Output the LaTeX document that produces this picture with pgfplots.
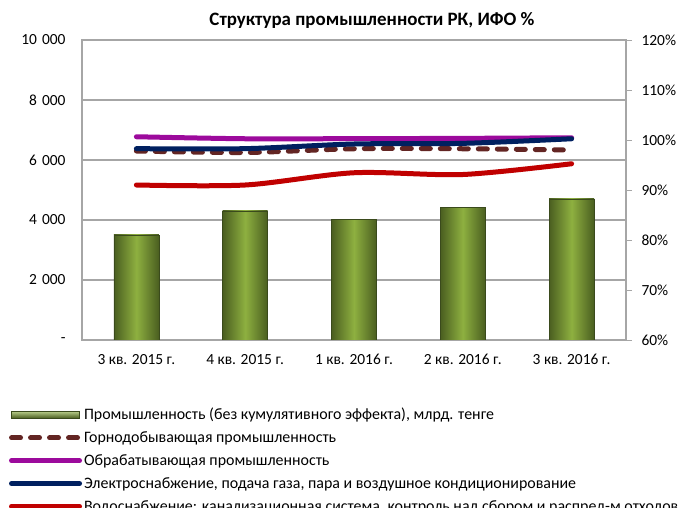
\documentclass[border=0pt]{standalone}
\usepackage{pgfplots}
\pgfplotsset{compat=1.18}
\usepackage{fontspec}
\setmainfont{Carlito}
\definecolor{gridgray}{HTML}{A6A6A6}
\definecolor{bardark}{HTML}{4A5E20}
\definecolor{barlight}{HTML}{8EB040}
\definecolor{barline}{HTML}{3A4A1C}
\definecolor{cbrown}{HTML}{632523}
\definecolor{cpurple}{HTML}{9C0A9C}
\definecolor{cnavy}{HTML}{002060}
\definecolor{cred}{HTML}{C00000}
\pgfplotsset{greenbar/.style={draw=barline, line width=0.6bp, left color=bardark, right color=bardark, middle color=barlight, bar shift=0pt}}
\begin{document}
\begin{tikzpicture}
\useasboundingbox (-82bp,-168bp) rectangle (598bp,340bp);
\begin{axis}[
  at={(0,0)}, anchor=south west,
  scale only axis, width=544bp, height=300bp,
  xmin=-0.5, xmax=4.5, ymin=0, ymax=10000,
  ybar, bar width=45bp, scaled y ticks=false,
  xtick={0,1,2,3,4},
  xticklabels={3 кв. 2015 г., 4 кв. 2015 г., 1 кв. 2016 г., 2 кв. 2016 г., 3 кв. 2016 г.},
  ytick={0,2000,4000,6000,8000,10000},
  yticklabels={-,2\hspace{0.32em}000,4\hspace{0.32em}000,6\hspace{0.32em}000,8\hspace{0.32em}000,10\hspace{0.32em}000},
  major tick length=0pt,
  ymajorgrids, grid style={draw=gridgray, line width=1.3bp},
  axis line style={draw=gridgray, line width=1.3bp},
  tick label style={font=\fontsize{15.5}{18}\selectfont, text=black},
  yticklabel style={xshift=-13bp},
  xticklabel style={yshift=-11bp},
  title={Структура промышленности РК, ИФО \%},
  title style={at={(axis description cs:0.533,1)}, anchor=south, yshift=2bp, font=\bfseries\fontsize{19}{22}\selectfont},
]
\addplot[greenbar] coordinates {(0,3500)};
\addplot[greenbar] coordinates {(1,4300)};
\addplot[greenbar] coordinates {(2,4030)};
\addplot[greenbar] coordinates {(3,4430)};
\addplot[greenbar] coordinates {(4,4700)};
\end{axis}
\begin{axis}[
  at={(0,0)}, anchor=south west,
  scale only axis, width=544bp, height=300bp,
  xmin=-0.5, xmax=4.5, ymin=60, ymax=120,
  axis x line=none, axis y line*=right,
  ytick={60,70,80,90,100,110,120},
  yticklabels={60\%,70\%,80\%,90\%,100\%,110\%,120\%},
  tick align=outside, major tick length=6bp,
  tick style={draw=gridgray, line width=1bp},
  axis line style={draw=gridgray, line width=1.3bp},
  tick label style={font=\fontsize{15.5}{18}\selectfont, text=black},
  yticklabel style={xshift=6bp},
  legend image code/.code={\draw[#1] (0bp,0bp) -- (68bp,0bp);},
  legend cell align=left,
  legend style={at={(-0.14,-0.213)}, anchor=north west, draw=none, fill=none,
    font=\fontsize{16}{18}\selectfont, row sep=6.5bp},
]
\addlegendimage{legend image code/.code={\shade[top color=barlight!60!white, bottom color=bardark, draw=barline, line width=0.6bp] (0bp,-3.5bp) rectangle (68bp,3.5bp);}}
\addlegendentry{Промышленность (без кумулятивного эффекта), млрд. тенге}
\addplot[cbrown, line width=5bp, line cap=round, dash pattern=on 9bp off 10bp, smooth]
  coordinates {(0,97.8) (1,97.5) (2,98.25) (3,98.25) (4,98.0)};
\addlegendentry{Горнодобывающая промышленность}
\addplot[cpurple, line width=5bp, line cap=round, smooth]
  coordinates {(0,100.65) (1,100.25) (2,100.27) (3,100.33) (4,100.45)};
\addlegendentry{Обрабатывающая промышленность}
\addplot[cnavy, line width=5bp, line cap=round, smooth]
  coordinates {(0,98.27) (1,98.27) (2,99.2) (3,99.33) (4,100.25)};
\addlegendentry{Электроснабжение, подача газа, пара и воздушное кондиционирование}
\addplot[cred, line width=5bp, line cap=round, smooth]
  coordinates {(0,91.0) (1,91.0) (2,93.45) (3,93.1) (4,95.25)};
\addlegendentry{Водоснабжение: канализационная система, контроль над сбором и распред-м отходов}
\end{axis}
\end{tikzpicture}
\end{document}
